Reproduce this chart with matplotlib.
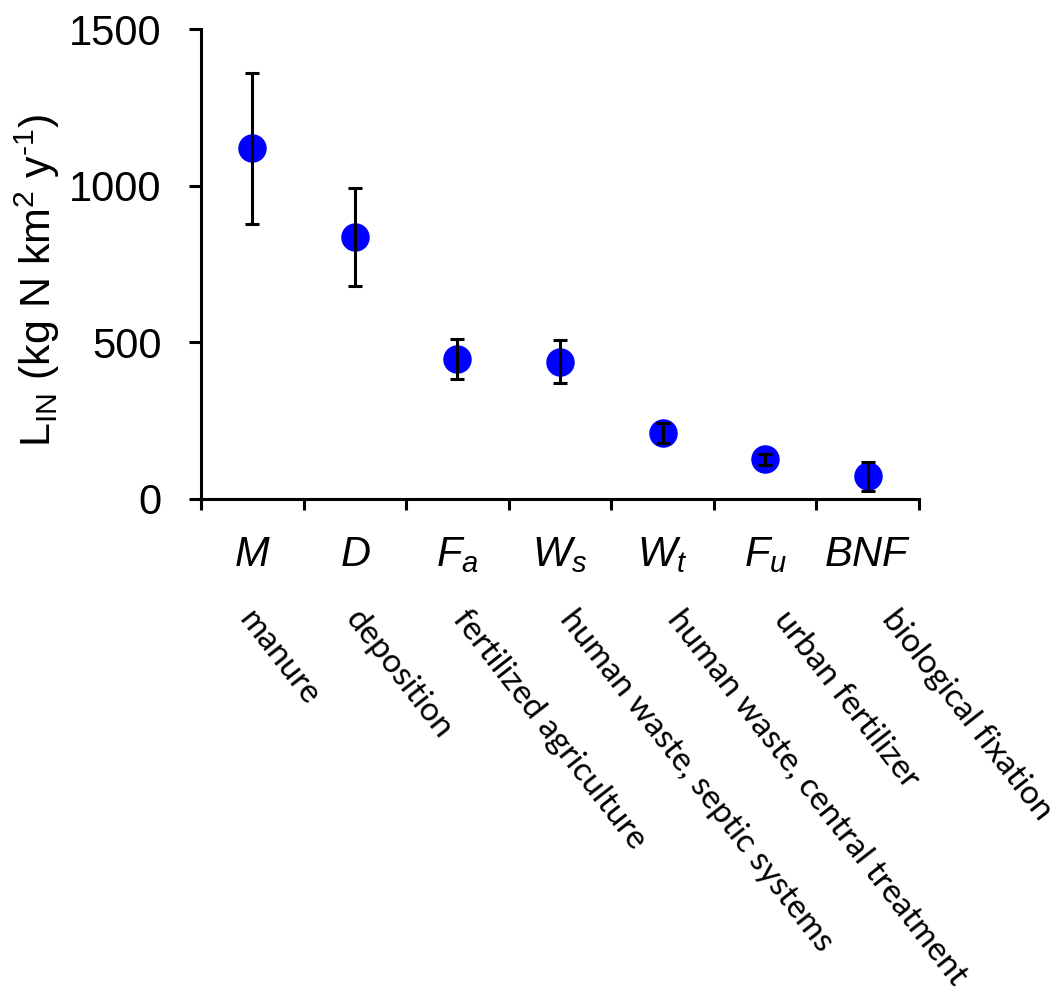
import numpy as np
import matplotlib.pyplot as plt
from matplotlib.transforms import blended_transform_factory

plt.rcParams['font.family'] = 'Liberation Sans'
plt.rcParams['mathtext.fontset'] = 'custom'
plt.rcParams['mathtext.rm'] = 'Liberation Sans'
plt.rcParams['mathtext.it'] = 'Liberation Sans:italic'

# N input sources, mean load and error
symbols = [r'$M$', r'$D$', r'$F_a$', r'$W_s$', r'$W_t$', r'$F_u$', r'$BNF$']
names = ['manure', 'deposition', 'fertilized agriculture',
         'human waste, septic systems', 'human waste, central treatment',
         'urban fertilizer', 'biological fixation']
load = [1120, 837, 446, 438, 210, 127, 72]
err = [241, 156, 64, 68, 32, 18, 46]

x = np.arange(len(load))

fig = plt.figure(figsize=(10.57, 10.02), dpi=100)
ax = fig.add_axes([0.1902, 0.502, 0.6793, 0.469])

# dots underneath, error bars on top so the short ones stay visible
ax.plot(x, load, 'o', color='#0000ff', markersize=19.5, zorder=2)
ax.errorbar(x, load, yerr=err, fmt='none', ecolor='black', elinewidth=2.2,
            capsize=5, capthick=2.2, zorder=3)

ax.set_xlim(-0.5, 6.5)
ax.set_ylim(0, 1500)
ax.set_yticks([0, 500, 1000, 1500])
ax.tick_params(axis='y', labelsize=30, length=8.6, width=2.2, pad=20)

# boundary ticks on the x axis, labels at category centres
ax.set_xticks(np.arange(-0.5, 7, 1))
ax.set_xticklabels([])
ax.tick_params(axis='x', which='major', length=8, width=2.2, direction='out')
ax.set_xticks(x, minor=True)
ax.set_xticklabels(symbols, minor=True)
ax.tick_params(axis='x', which='minor', length=0, labelsize=30, pad=26)

for side in ['top', 'right']:
    ax.spines[side].set_visible(False)
for side in ['left', 'bottom']:
    ax.spines[side].set_linewidth(2.2)

# long names, slanted below the symbols (spread a little wider than the ticks)
trans = blended_transform_factory(ax.transData, ax.transAxes)
for xi, name in zip(x, names):
    ax.text(xi * 1.045 + 0.04, -0.225, name, transform=trans, rotation=-52,
            rotation_mode='anchor', ha='left', va='top',
            fontsize=24, family='Lato', clip_on=False)

fig.text(37 / 1057, 1 - 280 / 1002,
         'L$_{\\mathrm{IN}}$ (kg N km$^2$ y$^{\\mathrm{\u2010}1}$)',
         rotation=90, ha='center', va='center', fontsize=31)

fig.savefig('out.png', dpi=100, facecolor='white')
